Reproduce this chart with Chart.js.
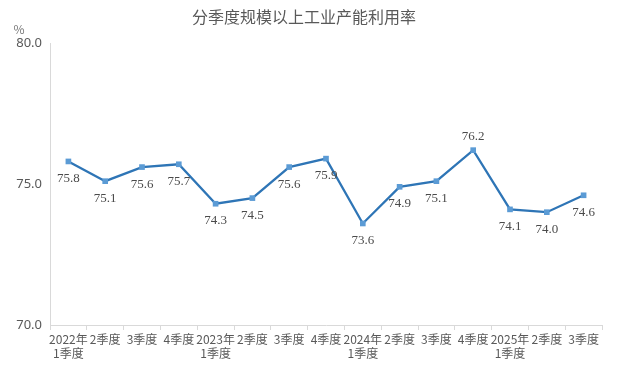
<!DOCTYPE html>
<html><head><meta charset="utf-8">
<script src="https://cdn.jsdelivr.net/npm/chart.js@4"></script>
<style>html,body{margin:0;padding:0;background:#fff}#wrap{width:618px;height:367px;position:relative}</style>
</head><body><div id="wrap"><canvas id="c" width="618" height="367"></canvas></div>
<script>
const categories = [["2022年","1季度"],"2季度","3季度","4季度",["2023年","1季度"],"2季度","3季度","4季度",["2024年","1季度"],"2季度","3季度","4季度",["2025年","1季度"],"2季度","3季度"];
const utilization = [75.8,75.1,75.6,75.7,74.3,74.5,75.6,75.9,73.6,74.9,75.1,76.2,74.1,74.0,74.6];
const yTicks = [70,75,80];
const titleText = "分季度规模以上工业产能利用率";
const unitText = "%";

const cjk = "'Noto Sans CJK SC','Noto Sans',sans-serif";
const overlay = {
  id:'overlay',
  afterDraw(chart){
    const ctx = chart.ctx;
    ctx.save();
    ctx.fillStyle = '#595959';
    ctx.font = "16px " + cjk;
    ctx.textAlign = 'center'; ctx.textBaseline = 'middle';
    ctx.fillText(titleText, 304, 17);
    ctx.font = "12px " + cjk;
    ctx.fillStyle = '#777';
    ctx.fillText(unitText, 19, 29);
    const meta = chart.getDatasetMeta(0);
    const maxV = Math.max(...utilization);
    ctx.font = "13px 'Liberation Serif','DejaVu Serif',serif";
    ctx.fillStyle = '#4a4a4a';
    meta.data.forEach((pt,i)=>{
      const v = utilization[i];
      const dy = (v === maxV) ? -14 : 17;
      ctx.fillText(v.toFixed(1), pt.x, pt.y + dy);
    });
    ctx.restore();
  }
};

new Chart(document.getElementById('c'), {
  type:'line',
  data:{ labels: categories, datasets:[{
    data: utilization,
    borderColor:'#2e75b6', borderWidth:2.3,
    pointStyle:'rect', pointRadius:4, pointBackgroundColor:'#5b9bd5', pointBorderColor:'#5b9bd5', pointBorderWidth:0,
    tension:0, fill:false
  }]},
  options:{
    responsive:false, animation:false, devicePixelRatio:1,
    layout:{padding:{top:43,right:16,left:0,bottom:0}},
    plugins:{legend:{display:false}, title:{display:false}, tooltip:{enabled:false}},
    scales:{
      x:{
        offset:true,
        grid:{display:true, drawOnChartArea:false, offset:true, tickLength:5, color:'#d9d9d9'},
        border:{color:'#d9d9d9'},
        ticks:{color:'#595959', font:{size:12, family:cjk}, maxRotation:0, autoSkip:false, padding:2},
        afterFit(s){ s.height = 42; }
      },
      y:{
        min:70, max:80,
        afterBuildTicks(s){ s.ticks = yTicks.map(v=>({value:v})); },
        grid:{display:false},
        border:{color:'#d9d9d9'},
        ticks:{color:'#595959', font:{size:13, family:"'Noto Sans','DejaVu Sans',sans-serif"}, padding:0, callback:v=>Number(v).toFixed(1)},
        afterFit(s){ s.width = 50; }
      }
    }
  },
  plugins:[overlay]
});
</script></body></html>
